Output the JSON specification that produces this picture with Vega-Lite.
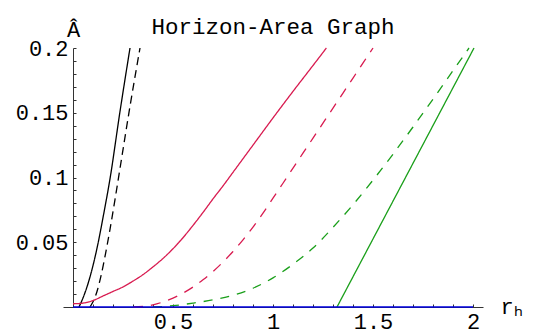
{
  "$schema": "https://vega.github.io/schema/vega-lite/v6.json",
  "width": 420,
  "height": 259,
  "autosize": {"type": "none"},
  "padding": {"left": 63, "top": 48, "right": 58, "bottom": 27},
  "background": "white",
  "title": {"text": "Horizon-Area Graph", "font": "Liberation Mono", "fontSize": 22.5, "fontWeight": "normal", "anchor": "middle", "frame": "group", "baseline": "alphabetic", "offset": -38, "color": "black"},
  "config": {
    "view": {"stroke": null},
    "axis": {"grid": false, "domainColor": "#333333", "tickColor": "#333333", "labelFont": "Liberation Mono", "labelFontSize": 22, "labelColor": "black", "titleFont": "Liberation Mono", "titleFontSize": 22, "titleFontWeight": "normal", "titleColor": "black", "labelOverlap": false, "labelFlush": false}
  },
  "data": {"values": [
    {"s": "a", "r": 0.03, "A": 0}, {"s": "a", "r": 0.05, "A": 0.007}, {"s": "a", "r": 0.075, "A": 0.018}, {"s": "a", "r": 0.1, "A": 0.032}, {"s": "a", "r": 0.125, "A": 0.049}, {"s": "a", "r": 0.15, "A": 0.069}, {"s": "a", "r": 0.185, "A": 0.099}, {"s": "a", "r": 0.235, "A": 0.151}, {"s": "a", "r": 0.285, "A": 0.2},
    {"s": "b", "r": 0.085, "A": 0}, {"s": "b", "r": 0.1, "A": 0.004}, {"s": "b", "r": 0.12, "A": 0.012}, {"s": "b", "r": 0.14, "A": 0.024}, {"s": "b", "r": 0.16, "A": 0.039}, {"s": "b", "r": 0.185, "A": 0.06}, {"s": "b", "r": 0.21, "A": 0.083}, {"s": "b", "r": 0.235, "A": 0.107}, {"s": "b", "r": 0.285, "A": 0.155}, {"s": "b", "r": 0.335, "A": 0.2},
    {"s": "c", "r": 0, "A": 0.0025}, {"s": "c", "r": 0.05, "A": 0.003}, {"s": "c", "r": 0.1, "A": 0.005}, {"s": "c", "r": 0.15, "A": 0.0085}, {"s": "c", "r": 0.2, "A": 0.012}, {"s": "c", "r": 0.25, "A": 0.0155}, {"s": "c", "r": 0.3, "A": 0.02}, {"s": "c", "r": 0.35, "A": 0.025}, {"s": "c", "r": 0.4, "A": 0.031}, {"s": "c", "r": 0.45, "A": 0.0375}, {"s": "c", "r": 0.5, "A": 0.045}, {"s": "c", "r": 0.55, "A": 0.0535}, {"s": "c", "r": 0.6, "A": 0.063}, {"s": "c", "r": 0.65, "A": 0.073}, {"s": "c", "r": 0.7, "A": 0.0835}, {"s": "c", "r": 0.75, "A": 0.0935}, {"s": "c", "r": 0.8, "A": 0.104}, {"s": "c", "r": 0.9, "A": 0.125}, {"s": "c", "r": 1.0, "A": 0.146}, {"s": "c", "r": 1.1, "A": 0.1665}, {"s": "c", "r": 1.2, "A": 0.1865}, {"s": "c", "r": 1.267, "A": 0.2},
    {"s": "d", "r": 0.3, "A": 0}, {"s": "d", "r": 0.35, "A": 0.0004}, {"s": "d", "r": 0.4, "A": 0.0017}, {"s": "d", "r": 0.45, "A": 0.0039}, {"s": "d", "r": 0.5, "A": 0.0069}, {"s": "d", "r": 0.55, "A": 0.0107}, {"s": "d", "r": 0.6, "A": 0.0154}, {"s": "d", "r": 0.65, "A": 0.021}, {"s": "d", "r": 0.7, "A": 0.0274}, {"s": "d", "r": 0.75, "A": 0.0347}, {"s": "d", "r": 0.8, "A": 0.0429}, {"s": "d", "r": 0.85, "A": 0.0519}, {"s": "d", "r": 0.9, "A": 0.0617}, {"s": "d", "r": 0.95, "A": 0.0724}, {"s": "d", "r": 1.0, "A": 0.084}, {"s": "d", "r": 1.1, "A": 0.1072}, {"s": "d", "r": 1.2, "A": 0.1304}, {"s": "d", "r": 1.3, "A": 0.1536}, {"s": "d", "r": 1.4, "A": 0.1768}, {"s": "d", "r": 1.5, "A": 0.2},
    {"s": "e", "r": 0.4, "A": 0}, {"s": "e", "r": 0.5, "A": 0.001}, {"s": "e", "r": 0.6, "A": 0.003}, {"s": "e", "r": 0.7, "A": 0.0055}, {"s": "e", "r": 0.8, "A": 0.009}, {"s": "e", "r": 0.9, "A": 0.0145}, {"s": "e", "r": 1.0, "A": 0.0225}, {"s": "e", "r": 1.1, "A": 0.033}, {"s": "e", "r": 1.2, "A": 0.0455}, {"s": "e", "r": 1.3, "A": 0.0615}, {"s": "e", "r": 1.4, "A": 0.079}, {"s": "e", "r": 1.5, "A": 0.098}, {"s": "e", "r": 1.6, "A": 0.118}, {"s": "e", "r": 1.7, "A": 0.139}, {"s": "e", "r": 1.8, "A": 0.1605}, {"s": "e", "r": 1.9, "A": 0.1825}, {"s": "e", "r": 1.98, "A": 0.2},
    {"s": "f", "r": 1.32, "A": 0}, {"s": "f", "r": 2.005, "A": 0.2},
    {"s": "g", "r": 0, "A": 0}, {"s": "g", "r": 2.0, "A": 0}
  ]},
  "mark": {"type": "line", "strokeWidth": 1.3, "interpolate": "monotone"},
  "encoding": {
    "x": {"field": "r", "type": "quantitative",
      "scale": {"domain": [-0.05, 2.05], "nice": false, "zero": false},
      "axis": {"values": [0.1, 0.2, 0.3, 0.4, 0.5, 0.6, 0.7, 0.8, 0.9, 1.0, 1.1, 1.2, 1.3, 1.4, 1.5, 1.6, 1.7, 1.8, 1.9, 2.0],
        "labelExpr": "round(datum.value*10) % 5 == 0 ? format(datum.value, '~g') : ''",
        "tickSize": -3, "labelPadding": 24, "labelBaseline": "alphabetic",
        "title": "rₕ", "titleX": 437, "titleY": 6, "titleAlign": "left", "titleBaseline": "alphabetic"}},
    "y": {"field": "A", "type": "quantitative",
      "scale": {"domain": [0, 0.2], "nice": false},
      "axis": {"values": [0.01, 0.02, 0.03, 0.04, 0.05, 0.06, 0.07, 0.08, 0.09, 0.1, 0.11, 0.12, 0.13, 0.14, 0.15, 0.16, 0.17, 0.18, 0.19, 0.2],
        "offset": -10,
        "labelExpr": "round(datum.value*100) % 5 == 0 ? format(datum.value, '~g') : ''",
        "tickSize": -3, "labelPadding": 8,
        "title": "Â", "titleAngle": 0, "titleX": 0, "titleY": -12, "titleAlign": "center", "titleBaseline": "alphabetic"}},
    "color": {"field": "s", "type": "nominal", "legend": null,
      "scale": {"domain": ["a", "b", "c", "d", "e", "f", "g"], "range": ["#000000", "#000000", "#d81b50", "#d81b50", "#1a9f1a", "#1a9f1a", "#0000e0"]}},
    "strokeDash": {"field": "s", "type": "nominal", "legend": null,
      "scale": {"domain": ["a", "b", "c", "d", "e", "f", "g"], "range": [[1, 0], [8, 5], [1, 0], [10, 8], [9, 8], [1, 0], [1, 0]]}}
  }
}
